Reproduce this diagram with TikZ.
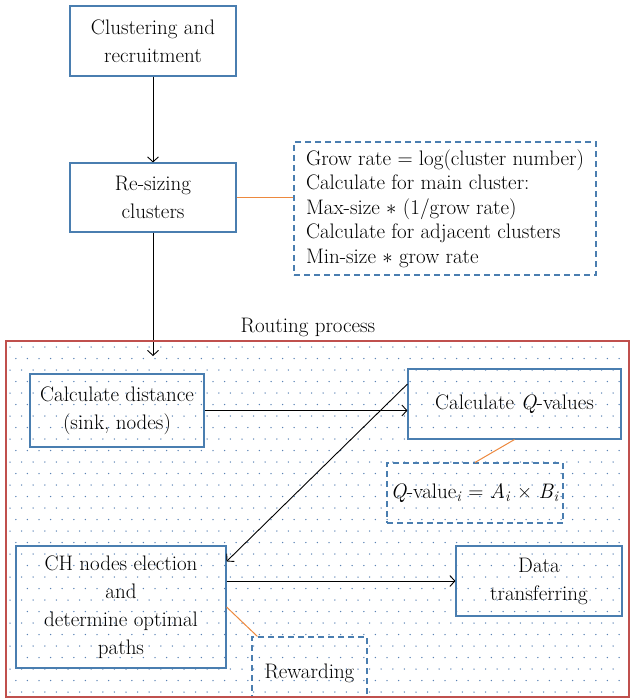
\documentclass[tikz,border=0pt]{standalone}
\usepackage{fontspec}
\usetikzlibrary{arrows.meta}
\definecolor{boxblue}{RGB}{74,126,176}
\definecolor{dotblue}{RGB}{90,130,180}
\definecolor{linkorange}{RGB}{237,137,62}
\definecolor{regionred}{RGB}{192,80,77}
\begin{document}
\begin{tikzpicture}[x=1pt,y=-1pt,
    every node/.style={font=\fontsize{21}{28}\selectfont, inner sep=0pt},
    procbox/.style={draw=boxblue, line width=1.1pt, align=center},
    notebox/.style={draw=boxblue, line width=1.1pt, dashed, dash pattern=on 6pt off 4pt},
    flow/.style={draw=black, line width=0.9pt, -{Straight Barb[length=5pt,width=11pt]}},
    link/.style={draw=linkorange, line width=1pt}]
\useasboundingbox (0,0) rectangle (630,698);
\foreach \r [evaluate=\r as \off using {mod(\r,2)*5.8}] in {0,...,30}
  \foreach \c in {0,...,52}
    \fill[dotblue] (10+\c*11.6+\off, 347+\r*11.5) circle (0.75pt);
\node[procbox, minimum width=166pt, minimum height=70pt] (clust) at (153,41) {Clustering and\\recruitment};
\node[procbox, minimum width=166pt, minimum height=69pt] (resize) at (153,197.5) {Re-sizing\\clusters};
\node[notebox, minimum width=302pt, minimum height=133pt, align=left, font=\fontsize{21}{24.5}\selectfont] (grow) at (445,208.5)
  {Grow rate = log(cluster number)\\Calculate for main cluster:\\Max-size $\ast$ (1/grow rate)\\Calculate for adjacent clusters\\Min-size $\ast$ grow rate};
\node (title) at (308,327) {Routing process};
\coordinate (entry) at (153,356);
\node[procbox, minimum width=174pt, minimum height=73pt] (dist) at (117,410.5) {Calculate distance\\(sink, nodes)};
\node[procbox, minimum width=213pt, minimum height=70pt] (qval) at (514.5,404) {Calculate \textit{Q}-values};
\node[notebox, minimum width=176pt, minimum height=60pt] (qeq) at (475,493) {\textit{Q}-value\textsubscript{\textit{i}} = \textit{A}\textsubscript{\textit{i}} × \textit{B}\textsubscript{\textit{i}}};
\node[procbox, minimum width=210pt, minimum height=122pt] (ch) at (121,607) {CH nodes election\\and\\determine optimal\\paths};
\node[procbox, minimum width=166pt, minimum height=70pt] (data) at (539,581) {Data\\transferring};
\node[notebox, minimum width=115pt, minimum height=72pt] (rew) at (309.5,673) {Rewarding};
\draw[flow] (clust) -- (resize);
\draw[link] (resize.east) -- (grow.west |- resize.east);
\draw[flow] (resize) -- (entry);
\draw[flow] (dist.east) -- (dist.east -| qval.west);
\draw[link] (qval.south) -- (qeq.north);
\draw[flow] ([yshift=20pt]qval.west) -- ([yshift=-16pt]ch.north east);
\draw[flow] (ch.east |- data.west) -- (data.west);
\draw[link] (ch.east) -- ([xshift=6pt]rew.north west);
\draw[regionred, line width=1.4pt] (6,341) rectangle (629,697);
\end{tikzpicture}
\end{document}
